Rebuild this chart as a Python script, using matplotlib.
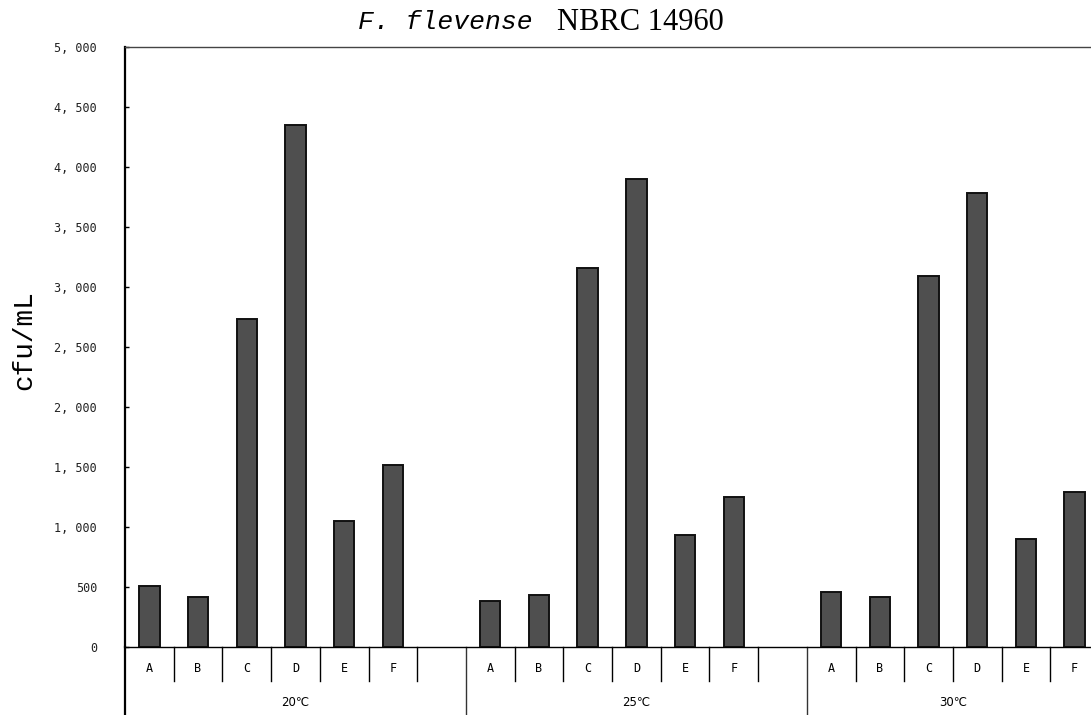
import matplotlib
matplotlib.use("Agg")
import matplotlib.pyplot as plt
import numpy as np
from matplotlib.transforms import blended_transform_factory

groups = ["20℃", "25℃", "30℃"]
categories = ["A", "B", "C", "D", "E", "F"]
values_20 = [510, 420, 2730, 4350, 1050, 1520]
values_25 = [380, 430, 3160, 3900, 930, 1250]
values_30 = [460, 420, 3090, 3780, 900, 1290]
series = [values_20, values_25, values_30]
yticks = list(range(0, 5001, 500))

W, H = 1091, 715
fig = plt.figure(figsize=(W / 100, H / 100), dpi=100)
ax = fig.add_axes([125 / W, 68 / H, (W - 125) / W, 600 / H])

slots = len(categories) + 1
for gi, vals in enumerate(series):
    xs = np.arange(len(categories)) + gi * slots
    ax.bar(xs, vals, width=0.42, color="#4f4f4f", edgecolor="#111111", linewidth=1.4)

ax.set_ylim(0, 5000)
ax.set_xlim(-0.5, (W - 125) / 48.7 - 0.5)
ax.set_yticks(yticks)
ax.set_yticklabels([f"{v:,}".replace(",", ", ") for v in yticks],
                   fontsize=8.5, family="DejaVu Sans Mono", color="#222222")
ax.tick_params(axis="y", direction="in", length=3, pad=20, width=1)
ax.set_xticks([])
ax.spines["right"].set_visible(False)
ax.spines["left"].set_linewidth(1.6)
ax.spines["top"].set_linewidth(1.0)
ax.spines["top"].set_color("#444444")
ax.spines["bottom"].set_linewidth(1.0)

tr = blended_transform_factory(ax.transData, ax.transAxes)
short = -34 / 600
long = -68 / 600
ax.plot([-0.5, -0.5], [0, long], transform=tr, color="black", lw=1.6, clip_on=False)
for gi in range(len(groups)):
    base = gi * slots
    for k in range(len(categories)):
        ax.plot([base + k + 0.5] * 2, [0, short], transform=tr, color="black",
                lw=1.0, clip_on=False)
        ax.text(base + k, -21 / 600, categories[k], transform=tr, ha="center",
                va="center", fontsize=8.5, family="DejaVu Sans Mono")
    if gi < len(groups) - 1:
        ax.plot([base + slots - 0.5] * 2, [0, long], transform=tr, color="#333333",
                lw=1.0, clip_on=False)

group_centers = [3, 10, 16.5]
for g, c in zip(groups, group_centers):
    ax.text(c, -56 / 600, g, transform=tr, ha="center", va="center", fontsize=8.5,
            family=["DejaVu Sans", "Noto Sans CJK SC"])

fig.text(24 / W, 1 - 340 / H, "cfu/mL", fontsize=20, family="Liberation Mono",
         rotation=90, ha="center", va="center")

fig.text(358 / W, 1 - 22 / H, "F. flevense", fontsize=19, style="italic",
         family="Liberation Mono", ha="left", va="center")
fig.text(557 / W, 1 - 22 / H, "NBRC 14960", fontsize=22, family="Liberation Serif",
         ha="left", va="center")

fig.savefig("out.png", dpi=100)
